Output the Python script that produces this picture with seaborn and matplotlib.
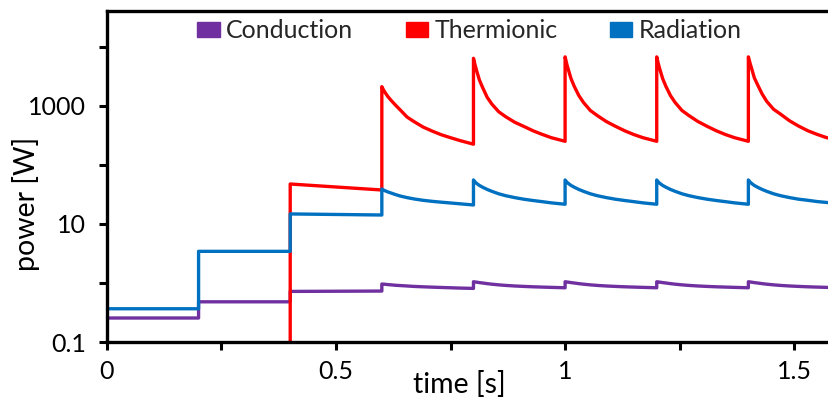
import numpy as np
import pandas as pd
import matplotlib
matplotlib.use("Agg")
import matplotlib.pyplot as plt
import seaborn as sns
from matplotlib.patches import Patch
from matplotlib.ticker import FixedLocator, NullFormatter

# ---------------- data ----------------
# step phase (0 - 0.6 s): times and levels
step_t = [0.0, 0.0, 0.2, 0.2, 0.4, 0.4, 0.6]
cond_step = [0.001, 0.255, 0.255, 0.48, 0.48, 0.72, 0.73]
rad_step = [0.001, 0.366, 0.366, 3.44, 3.44, 14.8, 14.2]
therm_step_t = [0.4, 0.4, 0.6]
therm_step = [0.001, 47.6, 37.7]

# pulsed phase: cycle start times and time offsets within a cycle
cycle_starts = [0.6, 0.8, 1.0, 1.2, 1.4]
cycle_offsets = [0, 0.004, 0.008, 0.013, 0.02, 0.03, 0.04, 0.055,
                 0.07, 0.09, 0.11, 0.13, 0.15, 0.17, 0.2]

therm_c06 = [2125, 1850, 1650, 1450, 1250, 1030, 860, 650, 545, 440, 375, 325, 290, 260, 225]
therm_c08 = [6430, 4800, 3700, 2750, 2050, 1400, 1080, 800, 660, 530, 450, 380, 330, 290, 252]
therm_c10 = [6800, 5000, 3900, 2900, 2150, 1500, 1150, 840, 690, 545, 452, 380, 328, 290, 252]
therm_c12 = [6800, 5000, 3900, 2900, 2150, 1500, 1150, 840, 690, 545, 452, 380, 328, 290, 252]
therm_c14 = [6800, 5200, 4100, 3000, 2300, 1600, 1200, 880, 730, 560, 455, 380, 330, 292, 255]

rad_c06 = [39.2, 37.5, 36.3, 35, 33.5, 31.5, 29.8, 28, 26.6, 25.2, 24.2, 23.4, 22.7, 22, 21]
rad_c08 = [55.7, 51, 48, 45, 42, 38.5, 35.8, 32.5, 30.2, 28, 26.3, 25, 23.9, 22.8, 21.6]
rad_c10 = [55.7, 51, 48, 45, 42, 38.5, 35.8, 32.5, 30.2, 28, 26.3, 25, 23.9, 22.8, 21.6]
rad_c12 = [55.7, 51, 48, 45, 42, 38.5, 35.8, 32.5, 30.2, 28, 26.3, 25, 23.9, 22.8, 21.6]
rad_c14 = [55.7, 51, 48, 45, 42, 38.5, 35.8, 32.5, 30.2, 28, 26.3, 25.2, 24.0, 23.2, 22.0]

cond_c06 = [0.96, 0.955, 0.95, 0.94, 0.93, 0.915, 0.905, 0.89, 0.875, 0.862, 0.85, 0.84, 0.83, 0.82, 0.81]
cond_c08 = [1.05, 1.04, 1.03, 1.015, 1.0, 0.975, 0.955, 0.93, 0.91, 0.89, 0.875, 0.862, 0.852, 0.843, 0.83]
cond_c10 = [1.05, 1.04, 1.03, 1.015, 1.0, 0.975, 0.955, 0.93, 0.91, 0.89, 0.875, 0.862, 0.852, 0.843, 0.83]
cond_c12 = [1.05, 1.04, 1.03, 1.015, 1.0, 0.975, 0.955, 0.93, 0.91, 0.89, 0.875, 0.862, 0.852, 0.843, 0.83]
cond_c14 = [1.05, 1.04, 1.03, 1.015, 1.0, 0.975, 0.955, 0.93, 0.91, 0.89, 0.875, 0.862, 0.852, 0.843, 0.83]

series_names = ["Conduction", "Thermionic", "Radiation"]
series_colors = ["#7030A0", "#FF0000", "#0070C0"]

x_major = [0, 0.5, 1, 1.5]
x_major_labels = ["0", "0.5", "1", "1.5"]
x_minor = [0.25, 0.75, 1.25]
y_major = [0.1, 10, 1000]
y_major_labels = ["0.1", "10", "1000"]
y_minor = [1, 100, 10000]


def build(pre_t, pre_v, cycles):
    t = list(pre_t)
    v = list(pre_v)
    for start, vals in zip(cycle_starts, cycles):
        t += [start + o for o in cycle_offsets]
        v += list(vals)
    return pd.DataFrame({"t": t, "v": v})


frames = [
    build(step_t, cond_step, [cond_c06, cond_c08, cond_c10, cond_c12, cond_c14]),
    build(therm_step_t, therm_step, [therm_c06, therm_c08, therm_c10, therm_c12, therm_c14]),
    build(step_t, rad_step, [rad_c06, rad_c08, rad_c10, rad_c12, rad_c14]),
]

# ---------------- plot ----------------
sns.set_theme(style="white")
plt.rcParams["font.family"] = ["Lato", "DejaVu Sans"]

fig = plt.figure(figsize=(8.29, 3.98), dpi=100)
ax = fig.add_axes([0.129, 0.1407, 0.871, 0.8317])

for df, col in zip(frames, series_colors):
    sns.lineplot(data=df, x="t", y="v", sort=False, estimator=None,
                 color=col, linewidth=2.4, ax=ax, legend=False)

ax.set_yscale("log")
ax.set_xlim(0, 1.576)
ax.set_ylim(0.1, 10 ** 4.61)

ax.set_xticks(x_major)
ax.set_xticklabels(x_major_labels)
ax.xaxis.set_minor_locator(FixedLocator(x_minor))
ax.set_yticks(y_major)
ax.set_yticklabels(y_major_labels)
ax.yaxis.set_minor_locator(FixedLocator(y_minor))
ax.yaxis.set_minor_formatter(NullFormatter())

fs = 18
ax.tick_params(axis="both", which="both", direction="out", length=6,
               width=2.2, color="black", labelsize=fs, labelcolor="black",
               bottom=True, left=True)
ax.tick_params(axis="x", which="both", pad=7)
ax.tick_params(axis="y", which="both", pad=9)

for s in ["left", "bottom", "top"]:
    ax.spines[s].set_visible(True)
    ax.spines[s].set_color("black")
    ax.spines[s].set_linewidth(2.4)
ax.spines["right"].set_visible(False)

ax.set_xlabel("time [s]", fontsize=20.5, color="black")
ax.xaxis.set_label_coords(0.4875, -0.088)
ax.set_ylabel("power [W]", fontsize=20.5, color="black")
ax.yaxis.set_label_coords(-0.093, 0.418)

handles = [Patch(facecolor=c, edgecolor=c, label=n)
           for n, c in zip(series_names, series_colors)]
ax.legend(handles=handles, loc="upper center", bbox_to_anchor=(0.502, 1.02),
          ncol=3, frameon=False, fontsize=fs, handlelength=0.9,
          handleheight=0.6, handletextpad=0.25, columnspacing=2.1,
          borderaxespad=0.2)

fig.savefig("out.png", dpi=100)
